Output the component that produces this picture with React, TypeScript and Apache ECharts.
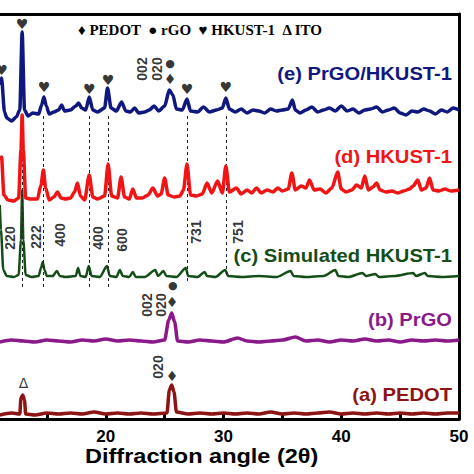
import React, { useEffect, useRef } from "react";
import * as echarts from "echarts";

// 2θ (deg) and stacked intensity (offset units) for each trace
const traceE: [number, number][] = [
  [11.0, 334], [11.15, 341], [11.4, 307], [11.6, 301], [12.0, 298], [12.4, 302], [12.7, 309], [12.9, 387], [13.1, 309],
  [13.4, 303], [13.8, 306], [14.3, 305], [14.55, 314], [14.75, 322], [14.95, 313], [15.2, 305], [15.6, 307], [16.0, 309],
  [16.25, 314], [16.5, 308], [17.0, 309], [17.45, 313], [17.7, 316], [17.95, 311], [18.3, 309], [18.6, 322], [18.9, 309],
  [19.3, 307], [19.9, 311], [20.15, 331], [20.45, 311], [20.9, 308], [21.35, 317], [21.7, 308], [22.1, 307], [22.45, 311],
  [22.8, 306], [23.3, 307], [23.7, 309], [24.1, 313], [24.5, 308], [25.0, 313], [25.4, 329], [25.7, 324], [26.0, 310],
  [26.5, 309], [26.9, 320], [27.2, 308], [27.8, 307], [28.3, 312], [28.8, 307], [29.4, 309], [29.9, 311], [30.2, 321],
  [30.5, 310], [31.0, 307], [31.5, 310], [32.0, 306], [32.5, 309], [33.0, 308], [33.5, 306], [34.0, 310], [34.5, 308],
  [35.0, 309], [35.5, 310], [35.85, 319], [36.1, 309], [36.5, 306], [37.0, 309], [37.5, 312], [38.0, 307], [38.5, 309],
  [39.0, 311], [39.5, 308], [40.0, 313], [40.5, 308], [41.0, 310], [41.5, 306], [42.0, 309], [42.5, 310], [43.0, 312],
  [43.5, 307], [44.0, 309], [44.5, 311], [45.0, 306], [45.5, 304], [46.0, 308], [46.5, 307], [47.0, 310], [47.5, 308],
  [48.0, 305], [48.5, 309], [49.0, 307], [49.5, 311], [50.0, 309],
];

const traceD: [number, number][] = [
  [11.0, 259], [11.15, 262], [11.35, 224], [11.7, 219], [12.2, 218], [12.6, 221], [12.8, 269], [12.9, 304], [13.0, 269],
  [13.2, 221], [13.6, 220], [14.2, 220], [14.5, 234], [14.7, 249], [14.9, 231], [15.2, 219], [15.6, 222], [15.9, 227],
  [16.2, 221], [16.6, 220], [17.0, 221], [17.35, 227], [17.6, 236], [17.85, 223], [18.2, 219], [18.6, 244], [18.9, 222],
  [19.3, 220], [19.9, 223], [20.2, 255], [20.5, 223], [21.0, 221], [21.3, 242], [21.6, 222], [22.0, 220], [22.3, 230],
  [22.6, 221], [23.1, 221], [23.6, 224], [24.0, 231], [24.4, 223], [24.7, 225], [25.0, 241], [25.3, 224], [25.8, 222],
  [26.3, 223], [26.6, 229], [26.9, 255], [27.2, 224], [27.7, 223], [28.2, 225], [28.6, 236], [29.0, 226], [29.5, 238],
  [29.9, 226], [30.2, 253], [30.5, 227], [31.1, 231], [31.5, 225], [32.0, 229], [32.4, 226], [32.8, 231], [33.2, 226],
  [33.7, 229], [34.2, 227], [34.6, 231], [35.0, 228], [35.5, 230], [35.8, 246], [36.1, 229], [36.6, 233], [37.0, 231],
  [37.3, 239], [37.7, 229], [38.2, 230], [38.7, 226], [39.2, 231], [39.7, 247], [40.0, 230], [40.4, 227], [40.9, 229],
  [41.3, 234], [41.7, 231], [42.0, 243], [42.3, 229], [42.7, 232], [43.0, 236], [43.3, 229], [43.8, 227], [44.3, 228],
  [44.8, 226], [45.3, 228], [45.8, 230], [46.1, 233], [46.5, 239], [46.8, 229], [47.2, 231], [47.5, 241], [47.8, 229],
  [48.3, 228], [48.8, 230], [49.3, 228], [50.0, 229],
];

const traceC: [number, number][] = [
  [11.0, 214], [11.1, 189], [11.3, 149], [11.6, 143], [12.2, 142], [12.6, 144], [12.8, 179], [12.9, 229], [13.0, 179],
  [13.2, 144], [13.7, 142], [14.3, 143], [14.5, 151], [14.65, 157], [14.8, 149], [15.0, 143], [15.5, 143], [15.85, 148],
  [16.1, 143], [16.6, 142], [17.45, 143], [17.65, 151], [17.85, 143], [18.3, 142], [18.55, 153], [18.8, 143], [19.5, 142],
  [20.1, 153], [20.35, 143], [20.9, 142], [21.2, 149], [21.45, 143], [22.0, 142], [22.3, 147], [22.55, 142], [23.3, 142],
  [24.2, 149], [24.45, 143], [24.9, 148], [25.15, 143], [26.0, 142], [26.8, 151], [27.0, 143], [27.8, 142], [28.4, 147],
  [28.6, 143], [29.3, 142], [30.15, 149], [30.4, 143], [31.5, 142], [33.0, 143], [34.5, 142], [35.7, 148], [35.95, 143],
  [37.0, 142], [38.5, 143], [39.5, 149], [39.75, 143], [40.6, 142], [41.8, 146], [42.1, 143], [42.9, 145], [43.2, 142],
  [44.5, 143], [46.1, 146], [46.35, 143], [47.1, 146], [47.35, 143], [48.5, 142], [50.0, 143],
];

const traceB: [number, number][] = [
  [11.0, 77], [12.0, 79], [13.0, 78], [14.0, 77], [15.0, 79], [16.0, 78], [17.0, 77], [18.0, 79], [19.0, 78], [20.0, 80],
  [21.0, 78], [22.0, 79], [23.0, 78], [24.0, 77], [25.0, 79], [25.35, 99], [25.6, 106], [25.85, 97], [26.1, 78], [27.0, 77],
  [28.0, 79], [29.0, 78], [30.0, 77], [31.2, 81], [32.0, 78], [33.0, 77], [34.0, 78], [35.0, 79], [36.1, 82], [37.0, 78],
  [38.0, 79], [39.0, 77], [40.0, 79], [41.0, 78], [42.0, 80], [43.0, 78], [44.0, 79], [45.0, 77], [46.0, 79], [47.0, 78],
  [48.0, 79], [49.0, 78], [50.0, 79],
];

const traceA: [number, number][] = [
  [11.0, 4], [12.0, 6], [12.7, 5], [12.8, 21], [12.95, 24], [13.1, 19], [13.2, 5], [14.0, 4], [15.0, 6], [16.0, 5],
  [17.0, 6], [18.0, 5], [19.0, 7], [20.0, 5], [21.0, 6], [22.0, 5], [23.0, 6], [24.0, 5], [25.2, 6], [25.4, 29],
  [25.6, 34], [25.8, 27], [26.0, 7], [27.0, 5], [28.0, 6], [29.0, 5], [30.0, 6], [31.0, 5], [32.0, 6], [33.0, 5],
  [34.0, 7], [35.0, 5], [36.0, 6], [37.0, 5], [38.0, 6], [39.0, 7], [40.0, 5], [41.0, 6], [42.0, 5], [43.0, 6],
  [44.0, 5], [45.0, 6], [46.0, 5], [47.0, 6], [48.0, 5], [49.0, 6], [50.0, 6],
];

// reference lines (HKUST-1 reflections)
const guideX = [12.9, 14.7, 18.6, 20.2, 26.9, 30.2];
const guideTop = 303;
const guideBottom = [131, 131, 131, 131, 135, 142];

// annotations [2θ, intensity, text]
const hklMarks: [number, number, string][] = [
  [11.83, 181, "220"], [14.04, 182, "222"], [16.09, 184, "400"], [19.32, 181, "400"],
  [21.36, 179, "600"], [27.66, 187, "731"], [31.23, 187, "751"],
  [23.06, 350, "002"], [24.34, 350, "020"],
  [23.49, 114, "002"], [24.68, 114, "020"],
  [24.43, 52, "020"],
];
const heartMarks: [number, number, string][] = [
  [11.15, 349, "♥"], [12.9, 395, "♥"], [14.75, 332, "♥"], [18.6, 330, "♥"], [20.2, 339, "♥"],
  [26.9, 330, "♥"], [30.2, 332, "♥"],
  [25.45, 340, "♦"], [25.62, 117, "♦"], [25.62, 43, "♦"], [13.02, 36, "Δ"],
];
const dotMarks: [number, number, string][] = [
  [25.45, 356, "●"], [25.7, 134, "●"],
];

const xTickLabels = ["20", "30", "40", "50"];
const seriesNames = ["(e) PrGO/HKUST-1", "(d) HKUST-1", "(c) Simulated HKUST-1", "(b) PrGO", "(a) PEDOT"];
const seriesColors = ["#10187f", "#f01414", "#144d18", "#8a1a8a", "#8c1414"];
const legendText = "♦ PEDOT  ● rGO  ♥ HKUST-1  Δ ITO";
const xTitle = "Diffraction angle (2θ)";

export default function App() {
  const ref = useRef<HTMLDivElement>(null);
  useEffect(() => {
    if (!ref.current) return;
    const chart = echarts.init(ref.current, null, { renderer: "svg" });
    const traces = [traceE, traceD, traceC, traceB, traceA];
    const labelY = [74, 157, 256, 320, 395];
    const sans = "Liberation Sans, Arial, sans-serif";
    const glyphSeries = (marks: [number, number, string][], size: number) => ({
      type: "scatter",
      z: 10,
      symbolSize: 0,
      data: marks.map((m) => ({ name: m[2], value: [m[0], m[1]] })),
      label: {
        show: true,
        position: "inside",
        formatter: "{b}",
        color: "#000",
        fontSize: size,
        fontFamily: "DejaVu Sans, sans-serif",
      },
    });
    chart.setOption({
      animation: false,
      grid: { left: -12, right: 15, top: 14, bottom: 55, containLabel: false, outerBoundsMode: "none" },
      xAxis: [
        {
          type: "value",
          min: 10,
          max: 50,
          interval: 10,
          position: "bottom",
          axisLine: { show: true, onZero: false, lineStyle: { color: "#000", width: 3 } },
          axisTick: { show: true, inside: true, length: 5, lineStyle: { color: "#000", width: 3 } },
          minorTick: { show: true, splitNumber: 2, length: 5, lineStyle: { color: "#000", width: 3 } },
          axisLabel: {
            color: "#000",
            fontSize: 17,
            fontWeight: "bold",
            fontFamily: sans,
            margin: 9,
            formatter: (v: number) => (xTickLabels.includes(String(v)) ? String(v) : ""),
          },
          splitLine: { show: false },
        },
        {
          type: "value",
          min: 10,
          max: 50,
          position: "top",
          axisLine: { show: true, onZero: false, lineStyle: { color: "#000", width: 3 } },
          axisTick: { show: false },
          axisLabel: { show: false },
          splitLine: { show: false },
        },
      ],
      yAxis: {
        type: "value",
        min: 0,
        max: 405,
        position: "right",
        axisLine: { show: true, onZero: false, lineStyle: { color: "#000", width: 3 } },
        axisTick: { show: false },
        axisLabel: { show: false },
        splitLine: { show: false },
      },
      series: [
        {
          type: "line",
          data: [],
          z: 1,
          silent: true,
          markLine: {
            symbol: "none",
            silent: true,
            label: { show: false },
            lineStyle: { color: "#222", type: [3, 3], width: 1 },
            data: guideX.map((x, i) => [{ coord: [x, guideTop] }, { coord: [x, guideBottom[i]] }]),
          },
        },
        ...traces.map((t, i) => ({
          type: "line",
          name: seriesNames[i],
          data: t,
          z: 2 + (4 - i),
          showSymbol: false,
          smooth: 0.25,
          smoothMonotone: "x",
          lineStyle: { color: seriesColors[i], width: i === 2 ? 2.5 : 3.5 },
        })),
        {
          type: "scatter",
          z: 10,
          symbolSize: 0,
          data: hklMarks.map((m) => ({ name: m[2], value: [m[0], m[1]] })),
          label: {
            show: true,
            position: "inside",
            rotate: 90,
            formatter: "{b}",
            color: "#000",
            fontSize: 14,
            fontWeight: "bold",
            fontFamily: sans,
          },
        },
        glyphSeries(heartMarks, 14),
        glyphSeries(dotMarks, 11),
      ],
      graphic: [
        ...seriesNames.map((n, i) => ({
          type: "text",
          x: 452,
          y: labelY[i],
          scaleX: 1.12,
          style: {
            text: n,
            fill: seriesColors[i],
            font: `bold 18px ${sans}`,
            textAlign: "right",
            textVerticalAlign: "middle",
          },
          z: 20,
        })),
        {
          type: "text",
          x: 78,
          y: 30,
          style: {
            text: legendText,
            fill: "#000",
            font: "bold 15px 'Liberation Serif', 'Times New Roman', serif",
            textVerticalAlign: "middle",
          },
          z: 20,
        },
        {
          type: "text",
          x: 85,
          y: 456,
          scaleX: 1.12,
          style: { text: xTitle, fill: "#000", font: `bold 21px ${sans}`, textVerticalAlign: "middle" },
          z: 20,
        },
      ],
    });
    return () => chart.dispose();
  }, []);
  return <div ref={ref} style={{ width: 474, height: 474, position: "absolute", left: 0, top: 0 }} />;
}
